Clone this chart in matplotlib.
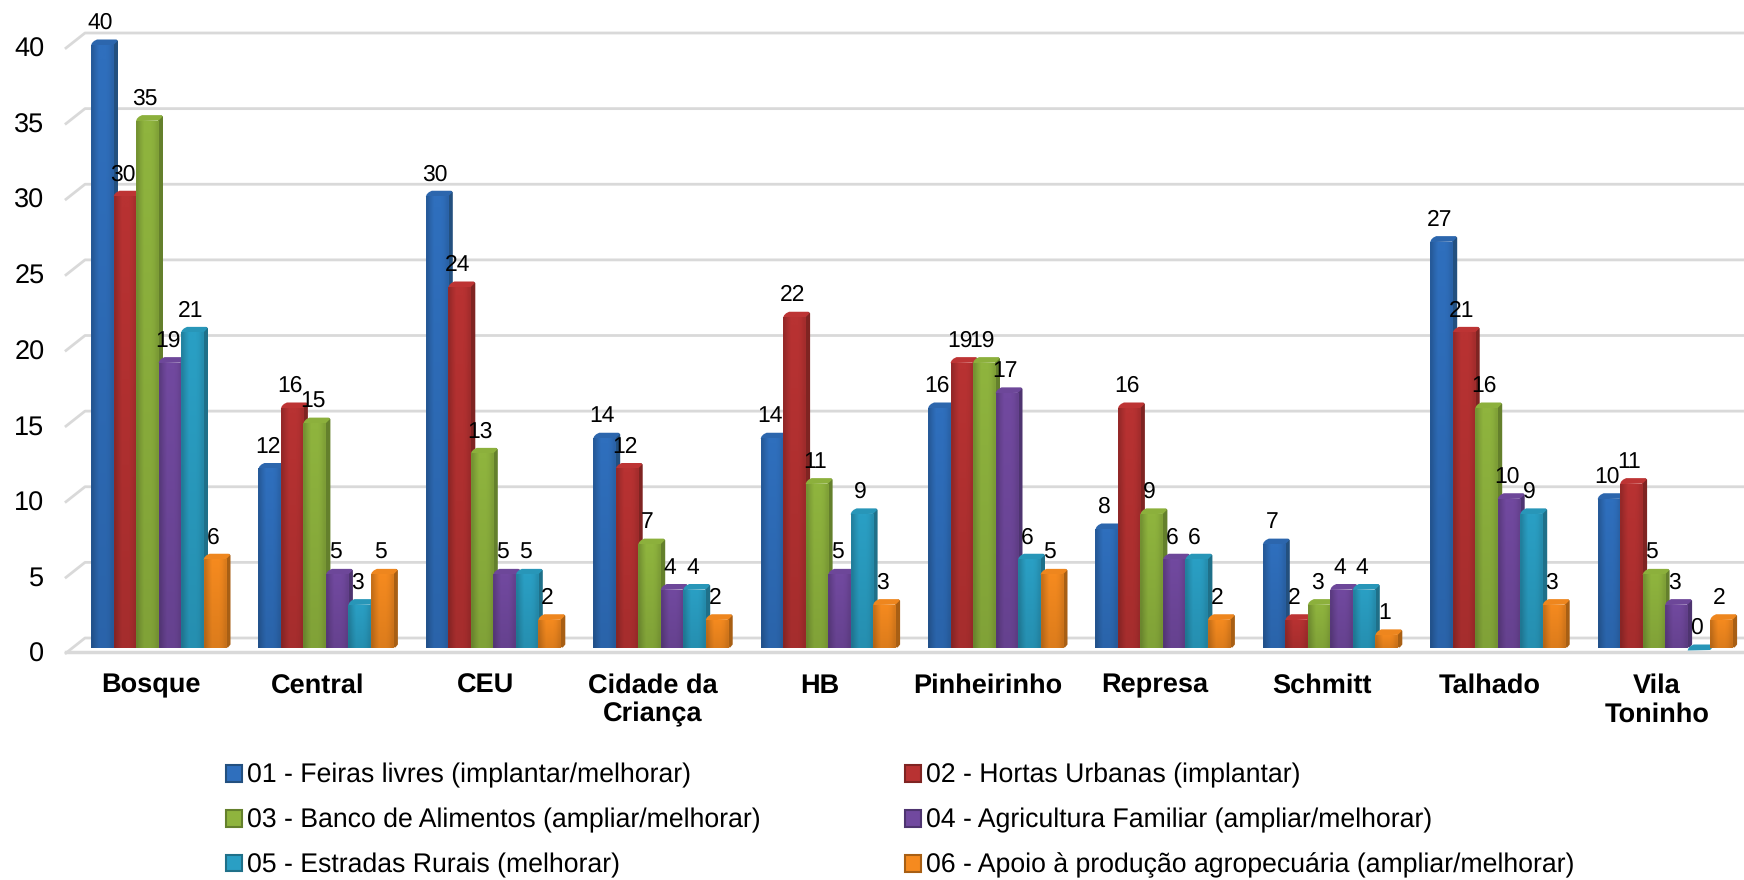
import numpy as np
import matplotlib
matplotlib.use('Agg')
import matplotlib.pyplot as plt
from matplotlib.patches import Patch, Polygon
from matplotlib.transforms import ScaledTranslation

plt.rcParams['font.family'] = ['Liberation Sans', 'DejaVu Sans']
plt.rcParams['text.hinting'] = 'none'

categories = ['Bosque', 'Central', 'CEU', 'Cidade da\nCriança', 'HB', 'Pinheirinho',
              'Represa', 'Schmitt', 'Talhado', 'Vila\nToninho']
series_names = ['01 - Feiras livres (implantar/melhorar)',
                '02 - Hortas Urbanas (implantar)',
                '03 - Banco de Alimentos (ampliar/melhorar)',
                '04 - Agricultura Familiar (ampliar/melhorar)',
                '05 - Estradas Rurais (melhorar)',
                '06 - Apoio à produção agropecuária (ampliar/melhorar)']
feiras = [40, 12, 30, 14, 14, 16, 8, 7, 27, 10]
hortas = [30, 16, 24, 12, 22, 19, 16, 2, 21, 11]
banco = [35, 15, 13, 7, 11, 19, 9, 3, 16, 5]
agricultura = [19, 5, 5, 4, 5, 17, 6, 4, 10, 3]
estradas = [21, 3, 5, 4, 9, 6, 6, 4, 9, 0]
apoio = [6, 5, 2, 2, 3, 5, 2, 1, 3, 2]
yticks = [0, 5, 10, 15, 20, 25, 30, 35, 40]

# front, side, top colours
colors = ['#2f6fbd', '#b83232', '#8fb43e', '#71499f', '#2a9fc4', '#f58a1f']
sides = ['#23507f', '#7f2422', '#64802c', '#4e3470', '#1f7089', '#a85f14']
tops = ['#2c66ad', '#bd3434', '#8cb03c', '#6d4799', '#2896b8', '#ee861e']

W, H = 1744, 880
GROUP = 167.4       # px between groups
UNIT = 15.125       # px per value
BASE = 648          # px of value 0 on the bars
BAR = 22.5
DX, DY = 4.5, 3.5   # depth of a bar
LEFT, FLOOR = 66, 653

fig = plt.figure(figsize=(W / 100, H / 100), dpi=100)
ax = fig.add_axes([LEFT / W, 1 - FLOOR / H, 1 - LEFT / W, FLOOR / H])
ax.set_xlim((LEFT - 158.5) / GROUP, (W - 158.5) / GROUP)
ax.set_ylim((BASE - FLOOR) / UNIT, BASE / UNIT)
for s in ax.spines.values():
    s.set_visible(False)

px = 1 / GROUP
py = 1 / UNIT
w = BAR * px
x_right = ax.get_xlim()[1]

# back wall lines with the little diagonal on the left
wall = (BASE - 638) * py
for v in yticks:
    ax.plot([(LEFT - 158.5) * px, (85 - 158.5) * px, x_right],
            [v + wall - 15 * py, v + wall, v + wall],
            color='#d9d9d9', lw=2, clip_on=False, zorder=1)
ax.plot([(LEFT - 158.5) * px, x_right], [(BASE - 652) * py] * 2,
        color='#d9d9d9', lw=2.5, clip_on=False, zorder=1)

shade = np.array([0.82, 0.92, 1.0, 1.0, 1.0, 0.97, 0.9])
all_series = [feiras, hortas, banco, agricultura, estradas, apoio]
z = 2
for c in range(len(categories)):
    for i, vals in enumerate(all_series):
        v = vals[c]
        x0 = c - 3 * w + i * w
        x1 = x0 + w
        # side face and cap first, next bar covers them
        ax.add_patch(Polygon([(x1 - 0.5 * px, 1 * py), (x1 + 2 * px, 0.5 * py), (x1 + DX * px, DY * py),
                              (x1 + DX * px, v + (DY - 1.5) * py), (x1 + DX * px - 1.5 * px, v + DY * py),
                              (x1 - 0.5 * px, v)], fc=sides[i], ec='none', zorder=z))
        ax.add_patch(Polygon([(x0, v - 2.5 * py), (x0 + 1 * px, v) , (x0 + 3 * px, v + 2 * py),
                              (x0 + 6 * px, v + DY * py), (x1 + DX * px - 2 * px, v + DY * py),
                              (x1 + DX * px - 0.5 * px, v + (DY - 1.5) * py), (x1, v - 2 * py)],
                             fc=tops[i], ec='none', zorder=z))
        if v > 0:
            b = ax.bar(x0 + w / 2, v - 2 * py, width=w, color=colors[i], zorder=z + 0.1)[0]
            rgb = np.array(matplotlib.colors.to_rgb(colors[i]))
            fade = np.linspace(1.0, 0.9, 20)[:, None, None]
            img = fade * shade[None, :, None] * rgb
            im = ax.imshow(np.clip(img, 0, 1), extent=(x0, x1, 0, v - 2 * py), aspect='auto',
                           zorder=z + 0.2, interpolation='bilinear', origin='upper')
            im.set_clip_path(b)
        z += 1

ax.set_xlim((LEFT - 158.5) / GROUP, (W - 158.5) / GROUP)
ax.set_ylim((BASE - FLOOR) / UNIT, BASE / UNIT)

# value labels
for c in range(len(categories)):
    for i, vals in enumerate(all_series):
        ax.annotate(str(vals[c]), (c - 3 * w + i * w + w / 2, vals[c]), xytext=(-2, 9),
                    textcoords='offset pixels', ha='center', va='bottom', fontsize=16.5,
                    color='black', zorder=500, annotation_clip=False)

ax.set_yticks(yticks)
ax.set_yticklabels([str(v) for v in yticks], fontsize=19.5)
ax.set_xticks(range(len(categories)))
ax.set_xticklabels(categories, fontsize=19.5, fontweight='bold', linespacing=1.2)
ax.tick_params(axis='both', length=0)
ax.tick_params(axis='y', pad=15.5)
ax.tick_params(axis='x', pad=14.5)
dpi_t = fig.dpi_scale_trans
for lab in ax.get_yticklabels():
    lab.set_transform(lab.get_transform() + ScaledTranslation(0, -4 / 100, dpi_t))
for lab in ax.get_xticklabels():
    lab.set_transform(lab.get_transform() + ScaledTranslation(-8 / 100, 0, dpi_t))

handles = [Patch(facecolor=colors[i], edgecolor=sides[i], lw=1.5) for i in [0, 2, 4, 1, 3, 5]]
labels = [series_names[i] for i in [0, 2, 4, 1, 3, 5]]
fig.legend(handles, labels, ncol=2, frameon=False, fontsize=19.2, loc='upper left',
           bbox_to_anchor=(226 / W, 1 - 763 / H), bbox_transform=fig.transFigure, borderaxespad=0,
           borderpad=0, handlelength=0.6, handleheight=0.6, handletextpad=0.2,
           labelspacing=0.74, columnspacing=5.4)

fig.savefig('out.png', dpi=100)
